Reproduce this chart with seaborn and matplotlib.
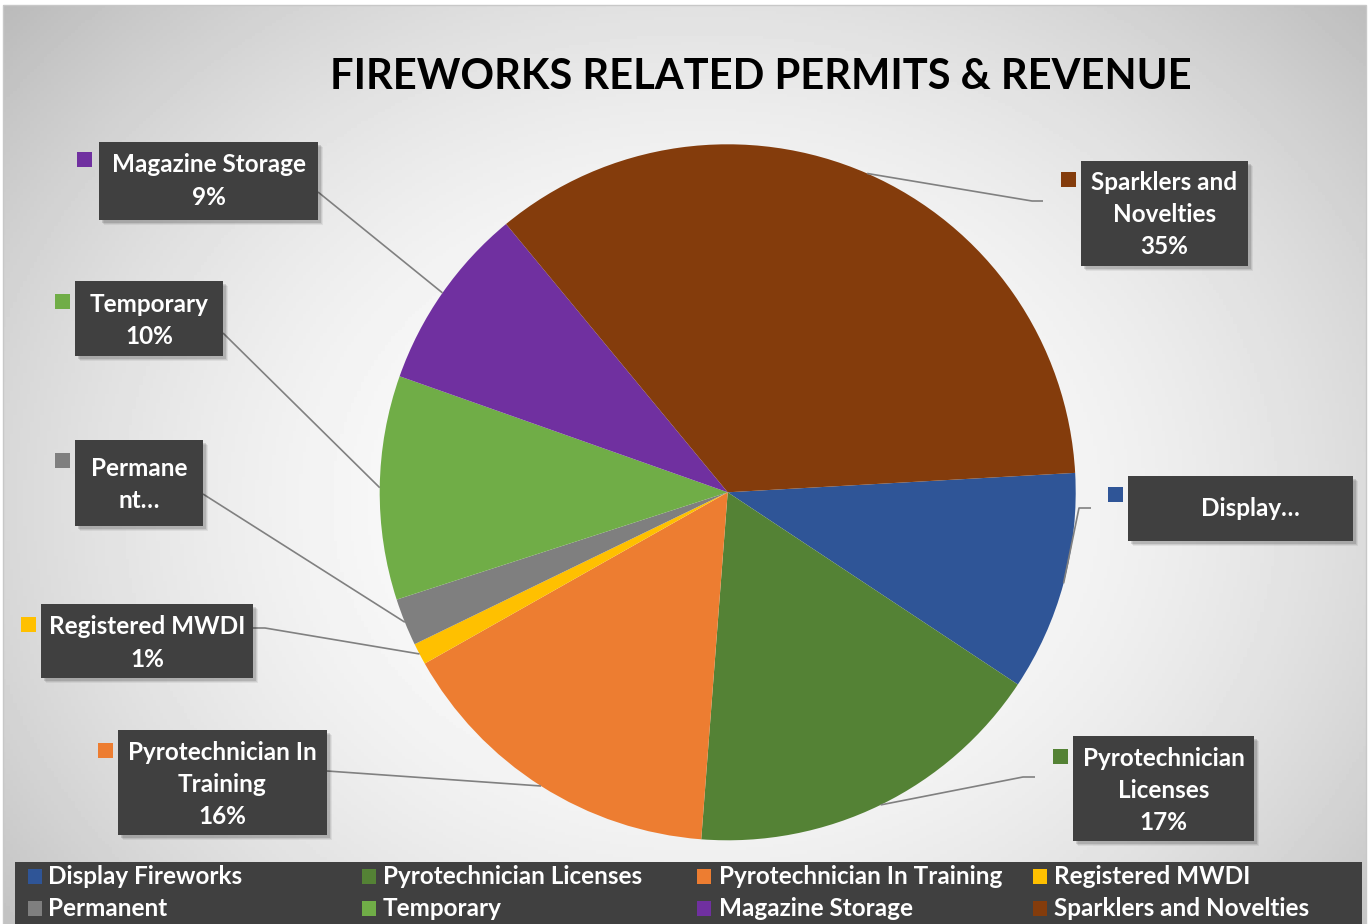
import numpy as np
import matplotlib
matplotlib.use("Agg")
import matplotlib.pyplot as plt
from matplotlib.patches import Rectangle
import seaborn as sns

# ---------------- data ----------------
categories = ["Display Fireworks", "Pyrotechnician Licenses", "Pyrotechnician In Training",
              "Registered MWDI", "Permanent", "Temporary", "Magazine Storage",
              "Sparklers and Novelties"]
values = [10.2, 16.9, 15.6, 1.0, 2.2, 10.4, 8.6, 35.1]
colors = ["#2F5597", "#548235", "#ED7D31", "#FFC000", "#7F7F7F", "#70AD47", "#7030A0", "#843C0C"]
label_lines = [["Display…"], ["Pyrotechnician", "Licenses"], ["Pyrotechnician In", "Training"],
               ["Registered MWDI"], ["Permane", "nt…"], ["Temporary"], ["Magazine Storage"],
               ["Sparklers and", "Novelties"]]
show_pct = [False, True, True, True, False, True, True, True]
title = "FIREWORKS RELATED PERMITS & REVENUE"

# ---------------- layout (pixel coords, y down) ----------------
W, H = 1368, 924
CX, CY, R = 727.7, 492.3, 348.0
boxes = [(1128, 476, 1353, 541), (1073, 736, 1254, 841), (118, 730, 327, 835),
         (41, 604, 253, 678), (75, 440, 203, 526), (75, 281, 223, 356),
         (99, 142, 318, 220), (1081, 161, 1248, 266)]
text_pos = [(1250, 509), (1163.5, 758), (222.5, 752), (147, 627), (139, 468),
            (149, 304), (208.5, 165), (1164.5, 182)]
marker_pos = [(1108, 487), (1053, 749), (98, 743), (21, 617), (55, 453), (55, 294),
              (77, 152), (1061, 172)]
leader_pts = [[(1091, 508), (1079, 508)], [(1035, 777), (1023, 777)], [(327, 771)],
              [(253, 628), (265, 628)], [(203, 494)], [(223, 333)], [(318, 192)],
              [(1043, 201), (1032, 201)]]
LINE_H = 32.5

sns.set_theme(style="white")
FONT = ["Lato", "DejaVu Sans"]
plt.rcParams["font.family"] = FONT

def Y(y):
    return H - y

fig = plt.figure(figsize=(W / 100, H / 100), dpi=100)
fig.patch.set_facecolor("white")
ax = fig.add_axes([0, 0, 1, 1])
ax.set_xlim(0, W)
ax.set_ylim(0, H)
ax.axis("off")

# background radial gradient
xx, yy = np.meshgrid(np.linspace(0, W, 400), np.linspace(0, H, 300))
rr = ((xx - 700) / 800) ** 2 + ((yy - 500) / 650) ** 2
grad = np.clip(1 - 0.2 * rr, 0, 1)
ax.imshow(grad, extent=(3, W - 2, Y(H), Y(5)), origin="upper", cmap="gray",
          vmin=0, vmax=1, aspect="auto", zorder=0)
ax.add_patch(Rectangle((3, Y(H)), W - 5, H - 5, fill=False, edgecolor="#c8c8c8", lw=1, zorder=1))

# title
ax.text(761, Y(77), title, ha="center", va="center", fontsize=30, fontweight="bold",
        color="black", zorder=5)

# pie
wedges, _ = ax.pie(values, colors=colors, startangle=3.2, counterclock=False,
                   center=(CX, Y(CY)), radius=R, frame=True,
                   wedgeprops=dict(linewidth=0, edgecolor="none", zorder=3))
ax.set_xlim(0, W)
ax.set_ylim(0, H)
ax.set_aspect("equal")
ax.axis("off")

total = sum(values)
for i, w in enumerate(wedges):
    mid = np.deg2rad((w.theta1 + w.theta2) / 2)
    ax_pt = (CX + R * np.cos(mid), Y(CY) + R * np.sin(mid))
    pts = [(x, Y(y)) for x, y in leader_pts[i]] + [ax_pt]
    ax.plot([p[0] for p in pts], [p[1] for p in pts], color="#808080", lw=1.2,
            zorder=4, solid_capstyle="butt")

    x0, y0, x1, y1 = boxes[i]
    # shadow
    for k, a in [(5, 0.06), (4, 0.08), (3, 0.12)]:
        ax.add_patch(Rectangle((x0 + k, Y(y1 + k)), x1 - x0, y1 - y0, facecolor="black",
                               edgecolor="none", alpha=a, zorder=5))
    ax.add_patch(Rectangle((x0, Y(y1)), x1 - x0, y1 - y0, facecolor="#404040",
                           edgecolor="none", zorder=6))
    lines = list(label_lines[i])
    if show_pct[i]:
        lines.append(f"{round(values[i] / total * 100)}%")
    tx, ty = text_pos[i]
    for j, ln in enumerate(lines):
        ax.text(tx, Y(ty + j * LINE_H), ln, ha="center", va="center", fontsize=17.5,
                fontweight="bold", color="white", zorder=7)
    mx, my = marker_pos[i]
    ax.add_patch(Rectangle((mx, Y(my + 15)), 15, 15, facecolor=colors[i],
                           edgecolor="none", zorder=6))

# legend band
ax.add_patch(Rectangle((15, Y(H)), 1347, H - 862, facecolor="#404040", edgecolor="none", zorder=6))
col_marker_x = [28, 362, 697, 1033]
col_text_x = [48, 383, 719, 1054]
row_y = [876, 908]
for i, cat in enumerate(categories):
    c, r = i % 4, i // 4
    ax.add_patch(Rectangle((col_marker_x[c], Y(row_y[r] + 7.5)), 14, 15,
                           facecolor=colors[i], edgecolor="none", zorder=7))
    ax.text(col_text_x[c], Y(row_y[r]), cat, ha="left", va="center", fontsize=17.5,
            fontweight="bold", color="white", zorder=7)

fig.savefig("out.png", dpi=100)
